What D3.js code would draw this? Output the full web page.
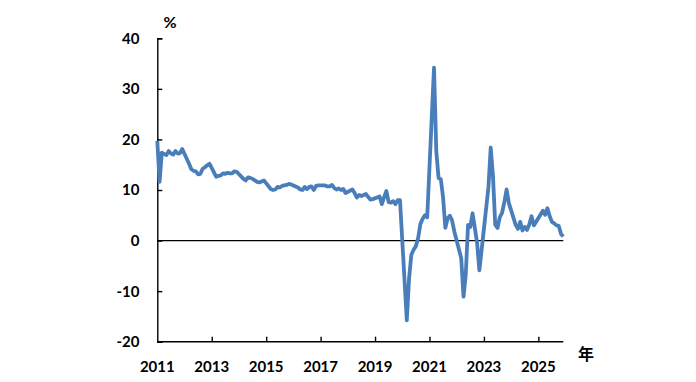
<!DOCTYPE html>
<html>
<head>
<meta charset="utf-8">
<script src="https://cdn.jsdelivr.net/npm/d3@7"></script>
<style>
  html, body { margin: 0; padding: 0; background: #ffffff; }
  svg { display: block; }
  .lbl { font-family: Lato, "Open Sans", "DejaVu Sans", sans-serif; font-weight: 700; font-size: 15px; fill: #000; }
</style>
</head>
<body>
<svg id="chart" width="696" height="382"></svg>
<script>
// Monthly series starting January 2011 (Jan/Feb not reported separately from 2012 on: null)
const startYear = 2011;
const values = [
  // 2011
  19.7, 11.6, 17.4, 17.1, 16.9, 17.7, 17.2, 17.0, 17.7, 17.2, 17.3, 18.1,
  // 2012
  null, null, 15.2, 14.1, 13.8, 13.7, 13.1, 13.2, 14.2, 14.5, 14.9, 15.2,
  // 2013
  null, null, 12.6, 12.8, 12.9, 13.3, 13.2, 13.4, 13.3, 13.3, 13.7, 13.6,
  // 2014
  null, null, 12.2, 11.9, 12.5, 12.4, 12.2, 11.9, 11.6, 11.5, 11.7, 11.9,
  // 2015
  null, null, 10.2, 10.0, 10.1, 10.6, 10.5, 10.8, 10.9, 11.0, 11.2, 11.1,
  // 2016
  null, null, 10.5, 10.1, 10.0, 10.6, 10.2, 10.6, 10.7, 10.0, 10.8, 10.9,
  // 2017
  null, null, 10.9, 10.7, 10.7, 11.0, 10.4, 10.1, 10.3, 10.0, 10.2, 9.4,
  // 2018
  null, null, 10.1, 9.4, 8.5, 9.0, 8.8, 9.0, 9.2, 8.6, 8.1, 8.2,
  // 2019
  null, null, 8.7, 7.2, 8.6, 9.8, 7.6, 7.5, 7.8, 7.2, 8.0, 8.0,
  // 2020
  null, null, -15.8, -7.5, -2.8, -1.8, -1.1, 0.5, 3.3, 4.3, 5.0, 4.6,
  // 2021
  null, null, 34.2, 17.7, 12.4, 12.1, 8.5, 2.5, 4.4, 4.9, 3.9, 1.7,
  // 2022
  null, null, -3.5, -11.1, -6.7, 3.1, 2.7, 5.4, 2.5, -0.5, -5.9, -1.8,
  // 2023
  null, null, 10.6, 18.4, 12.7, 3.1, 2.5, 4.6, 5.5, 7.6, 10.1, 7.4,
  // 2024
  null, null, 3.1, 2.3, 3.7, 2.0, 2.7, 2.1, 3.2, 4.8, 3.0, 3.7,
  // 2025
  null, null, 5.9, 5.1, 6.4, 4.8, 3.7, 3.4, 3.0, 2.9, 1.3, 0.8
];
const xTickYears = [2011, 2013, 2015, 2017, 2019, 2021, 2023, 2025];
const yTicks = [-20, -10, 0, 10, 20, 30, 40];
const yUnit = "%";
const xUnit = "年";

const svg = d3.select("#chart");

const x = d3.scaleLinear()
  .domain([startYear, startYear + (values.length - 1) / 12])
  .range([157.3, 563.3]);
const y = d3.scaleLinear().domain([-20, 40]).range([341.7, 38.3]);

const data = values.map((v, i) => ({ t: startYear + i / 12, v }))
  .filter(d => d.v !== null);

// Zero line
svg.append("line")
  .attr("x1", x.range()[0]).attr("x2", x.range()[1])
  .attr("y1", y(0)).attr("y2", y(0))
  .attr("stroke", "#000").attr("stroke-width", 1.2);

// Y axis (ticks pointing inward)
const yAxis = d3.axisRight(y).tickValues(yTicks).tickSize(5).tickFormat("");
const gy = svg.append("g").attr("transform", `translate(${x.range()[0]},0)`).call(yAxis);
gy.select(".domain").attr("stroke", "#000").attr("stroke-width", 1.4);
gy.selectAll(".tick line").attr("stroke", "#000").attr("stroke-width", 1.4);

svg.append("g").selectAll("text").data(yTicks).join("text")
  .attr("class", "lbl")
  .attr("x", 139.5).attr("y", d => y(d))
  .attr("dy", "0.36em").attr("text-anchor", "end")
  .text(d => d);

// X axis (ticks pointing inward/up)
const xAxis = d3.axisTop(x).tickValues(xTickYears.filter(v => v !== startYear)).tickSize(5).tickFormat("");
const gx = svg.append("g").attr("transform", `translate(0,${y(-20)})`).call(xAxis);
gx.select(".domain").attr("stroke", "#000").attr("stroke-width", 1.4)
  .attr("d", `M${x.range()[0]},0H${x.range()[1]}`);
gx.selectAll(".tick line").attr("stroke", "#000").attr("stroke-width", 1.4);

svg.append("g").selectAll("text").data(xTickYears).join("text")
  .attr("class", "lbl")
  .attr("x", d => x(d)).attr("y", 371.5)
  .attr("text-anchor", "middle")
  .text(d => d);

// Units
svg.append("text").attr("class", "lbl")
  .attr("x", 170).attr("y", 28).attr("text-anchor", "middle")
  .style("font-size", "16px")
  .text(yUnit);
svg.append("text")
  .attr("x", 586).attr("y", 359.5).attr("text-anchor", "middle")
  .style("font-family", '"Noto Sans CJK JP", "Noto Sans CJK SC", sans-serif')
  .style("font-weight", 700).style("font-size", "16px")
  .text(xUnit);

// Line
const line = d3.line().x(d => x(d.t)).y(d => y(d.v));
svg.append("path").datum(data)
  .attr("fill", "none")
  .attr("stroke", "#4a7ebb")
  .attr("stroke-width", 3.8)
  .attr("stroke-linejoin", "round")
  .attr("d", line);
</script>
</body>
</html>
